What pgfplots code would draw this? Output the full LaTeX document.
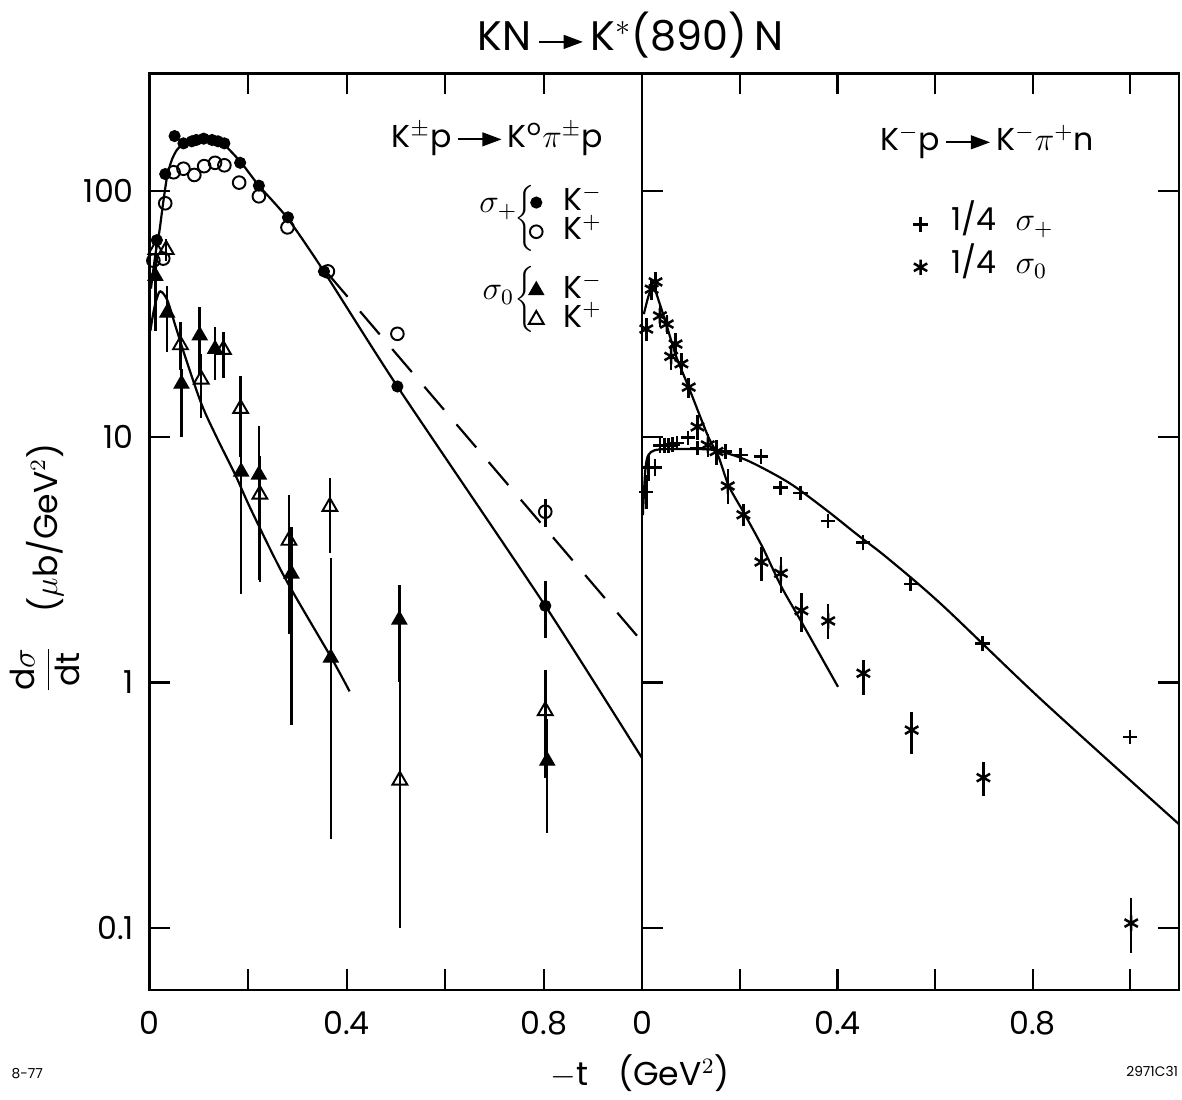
\documentclass[border=0pt]{standalone}
\usepackage{fontspec}
\setmainfont{Poppins}
\usepackage{pgfplots}
\pgfplotsset{compat=1.18}
\usetikzlibrary{arrows.meta}

\newlength\px
\setlength\px{0.01269cm}
\newsavebox\arrbox

\pgfplotsset{
  every axis/.append style={
    scale only axis, height=922\px, ymin=0.0562, ymax=300,
    ytick={0.1,1,10,100}, yminorticks=false,
    tick align=inside, major tick length=21\px,
    axis line style={line width=0.8pt}, tick style={line width=0.8pt, black},
    /pgf/number format/assume math mode=true,
    ticklabel style={font=\fontsize{11.5}{13}\selectfont},
    xticklabel style={yshift=-12\px},
    yticklabel style={xshift=-6\px},
    xtick pos=both,
    legend cell align=left,
  },
}

\begin{document}
\sbox\arrbox{\tikz[baseline=-0.55ex]\draw[line width=0.7pt,-{Triangle[length=7pt,width=5pt]}] (0,0)--(44\px,0);}
\begin{tikzpicture}
\path[use as bounding box] (-143\px,-110\px) rectangle (1039\px,996\px);

\begin{semilogyaxis}[name=L, at={(0,0)}, anchor=south west, width=496\px,
  xmin=0, xmax=1, xtick={0,0.4,0.8}, extra x ticks={0.2,0.6}, extra x tick labels={},
  ytick pos=left, yticklabels={0.1,1,10,100},
  legend style={at={(rel axis cs:0.736,0.873)}, anchor=north west, draw=none, fill=none,
    inner sep=0pt, row sep=5\px, font=\fontsize{11.5}{13}\selectfont,
    nodes={inner sep=0pt, text height=7.4pt, text depth=1.4pt},
    /tikz/every odd column/.append style={column sep=20\px}},
]
% fitted curves
\addplot[black, line width=0.8pt, no marks, forget plot, smooth, tension=0.4] coordinates {(0.003,40) (0.012,55) (0.02,68) (0.028,90) (0.036,115) (0.045,133) (0.055,146) (0.07,156) (0.1,160) (0.13,159) (0.15,155) (0.185,131) (0.222,105) (0.281,77) (0.354,47) (0.503,16) (0.803,2.05) (1.0,0.49)};
\addplot[black, line width=0.8pt, no marks, forget plot, dash pattern=on 11pt off 7pt] coordinates {(0.362,46) (1.0,1.46)};
\addplot[black, line width=0.8pt, no marks, forget plot, smooth, tension=0.5] coordinates {(0.002,27) (0.008,32) (0.014,36) (0.022,39) (0.036,36) (0.0525,28.3) (0.073,21) (0.106,13.5) (0.14,9.6) (0.174,7.0) (0.207,5.0) (0.275,2.66) (0.369,1.26) (0.406,0.92)};
% sigma_+ K-
\addplot[only marks, mark=*, mark size=2pt, black,
  error bars/y dir=both, error bars/y explicit, error bars/error mark=none,
  error bars/error bar style={line width=0.9pt}] coordinates {
(0.015,63) (0.032,117) (0.051,167) (0.069,156) (0.086,159) (0.095,161) (0.110,163)
(0.127,161) (0.139,159) (0.152,156) (0.184,130) (0.222,105) (0.281,78) (0.354,47)
(0.503,16) (0.803,2.05) += (0,0.53) -= (0,0.54)};
\addlegendentry{K$^-$}
% sigma_+ K+
\addplot[only marks, mark=o, mark size=2.3pt, black, mark options={fill=white, line width=0.7pt},
  error bars/y dir=both, error bars/y explicit, error bars/error mark=none,
  error bars/error bar style={line width=0.9pt}] coordinates {
(0.008,52) (0.028,53) (0.032,89) (0.049,119) (0.069,123) (0.091,116) (0.111,126)
(0.133,130) (0.152,127) (0.182,108) (0.222,95) (0.280,71) (0.362,47) (0.503,26.2)
(0.803,4.95) += (0,0.65) -= (0,0.65)};
\addlegendentry{K$^+$}
\addlegendimage{empty legend}
\addlegendentry[text height=7.5pt]{}
% sigma_0 K-
\addplot[only marks, mark=triangle*, mark size=3.1pt, black,
  error bars/y dir=both, error bars/y explicit, error bars/error mark=none,
  error bars/error bar style={line width=0.9pt}] coordinates {
(0.012,45) += (0,10) -= (0,18)
(0.036,31.9) += (0,9) -= (0,9.8)
(0.065,16.4) += (0,2.5) -= (0,6.4)
(0.102,25.8) += (0,7.8) -= (0,8)
(0.133,22.7) += (0,5.3) -= (0,5.7)
(0.186,7.2) += (0,4) -= (0,4.9)
(0.222,7.0) += (0,4) -= (0,4.4)
(0.288,2.77) += (0,1.5) -= (0,2.1)
(0.368,1.26) += (0,1.94) -= (0,1.03)
(0.507,1.80) += (0,0.7) -= (0,0.8)
(0.807,0.48) += (0,0.23) -= (0,0.236)};
\addlegendentry{K$^-$}
% sigma_0 K+
\addplot[only marks, mark=triangle, mark size=3.1pt, black, mark options={fill=white, line width=0.7pt},
  error bars/y dir=both, error bars/y explicit, error bars/error mark=none,
  error bars/error bar style={line width=0.9pt}] coordinates {
(0.013,57.6) += (0,5) -= (0,5)
(0.034,57.6) += (0,6) -= (0,6)
(0.063,23.6) += (0,5.7) -= (0,5)
(0.105,17.1) += (0,4.6) -= (0,5.2)
(0.150,22.6) += (0,4) -= (0,5.2)
(0.185,13.0) += (0,4.7) -= (0,4.7)
(0.224,5.82) += (0,2.5) -= (0,3.26)
(0.283,3.78) += (0,2.0) -= (0,2.2)
(0.366,5.19) += (0,1.6) -= (0,1.84)
(0.508,0.40) += (0,0.74) -= (0,0.30)
(0.803,0.767) += (0,0.36) -= (0,0.36)};
\addlegendentry{K$^+$}

\node[font=\fontsize{11.5}{13}\selectfont] at (rel axis cs:0.7056,0.9284)
  {K$^{\pm}$p\,\usebox\arrbox\,K$^{\mathrm{o}}\pi^{\pm}$p};
\node[font=\fontsize{12}{13}\selectfont] at (rel axis cs:0.708,0.8525) {$\sigma_+$};
\node at (rel axis cs:0.764,0.8417) {$\left\{\vphantom{\rule[-23\px]{0pt}{46\px}}\right.$};
\node[font=\fontsize{12}{13}\selectfont] at (rel axis cs:0.708,0.7581) {$\sigma_0$};
\node at (rel axis cs:0.764,0.7538) {$\left\{\vphantom{\rule[-23\px]{0pt}{46\px}}\right.$};
\end{semilogyaxis}

\begin{semilogyaxis}[name=R, at={(L.south east)}, anchor=south west, width=540\px,
  xmin=0, xmax=1.1, xtick={0,0.4,0.8}, extra x ticks={0.2,0.6,1.0}, extra x tick labels={},
  ytick pos=both, yticklabels={},
  legend style={at={(rel axis cs:0.504,0.8486)}, anchor=north west, draw=none, fill=none,
    inner sep=0pt, row sep=6.9pt, font=\fontsize{11.5}{13}\selectfont,
    nodes={inner sep=0pt, text height=6.6pt, text depth=2pt},
    /tikz/every odd column/.append style={column sep=24\px}},
]
\addplot[black, line width=0.8pt, no marks, forget plot, smooth, tension=0.5] coordinates {(0.001,4.8) (0.006,7.3) (0.012,8.4) (0.025,8.8) (0.05,8.9) (0.1,8.9) (0.15,8.8) (0.215,8.0) (0.3,6.5) (0.373,5.1) (0.44,4.0) (0.503,3.2) (0.615,2.06) (0.818,0.85) (1.1,0.265)};
\addplot[black, line width=0.8pt, no marks, forget plot, smooth, tension=0.4] coordinates {(0.003,31.5) (0.012,37) (0.022,41) (0.035,35) (0.05,28.2) (0.07,21) (0.096,15.7) (0.134,10.1) (0.156,8.3) (0.177,6.3) (0.208,4.9) (0.246,3.56) (0.285,2.45) (0.327,1.75) (0.401,0.96)};
% 1/4 sigma_+
\addplot[only marks, mark=+, mark size=2.6pt, black, mark options={line width=0.9pt},
  error bars/y dir=both, error bars/y explicit, error bars/error mark=none,
  error bars/error bar style={line width=0.9pt}] coordinates {
(0.008,5.96) += (0,1.0) -= (0,0.9)
(0.013,7.5) += (0,0.9) -= (0,0.9)
(0.026,7.5) += (0,0.6) -= (0,0.6)
(0.036,9.2) += (0,0.6) -= (0,0.6)
(0.045,9.2) += (0,0.6) -= (0,0.6)
(0.054,9.2) += (0,0.6) -= (0,0.6)
(0.062,9.3) += (0,0.6) -= (0,0.6)
(0.071,9.4) += (0,0.6) -= (0,0.6)
(0.093,9.9) += (0,0.5) -= (0,0.5)
(0.113,9.0)
(0.17,8.7) += (0,0.4) -= (0,0.4)
(0.201,8.4)
(0.243,8.3)
(0.283,6.2) += (0,0.3) -= (0,0.3)
(0.324,5.9) += (0,0.3) -= (0,0.3)
(0.38,4.53) += (0,0.25) -= (0,0.25)
(0.452,3.71) += (0,0.2) -= (0,0.2)
(0.55,2.52) += (0,0.15) -= (0,0.17)
(0.697,1.44) += (0,0.08) -= (0,0.08)
(1.0,0.60) += (0,0.03) -= (0,0.03)};
\addlegendentry{1/4\hspace{0.6em}$\sigma_+$}
% 1/4 sigma_0
\addplot[only marks, mark=asterisk, mark size=2.8pt, black, mark options={line width=0.9pt},
  error bars/y dir=both, error bars/y explicit, error bars/error mark=none,
  error bars/error bar style={line width=0.9pt}] coordinates {
(0.008,27.4) += (0,3) -= (0,3)
(0.019,39.8) += (0,4) -= (0,4)
(0.027,42.6) += (0,4) -= (0,4)
(0.036,31) += (0,3) -= (0,3)
(0.05,28.7) += (0,2.5) -= (0,2.5)
(0.059,21.2) += (0,2.5) -= (0,2.5)
(0.068,23.8) += (0,2.5) -= (0,2.5)
(0.08,19.8) += (0,2) -= (0,2)
(0.095,15.9) += (0,1.5) -= (0,1.5)
(0.113,10.96) += (0,1.3) -= (0,1.3)
(0.134,9.25) += (0,1) -= (0,1)
(0.152,8.7) += (0,1) -= (0,1)
(0.175,6.3) += (0,1.06) -= (0,1.0)
(0.207,4.81) += (0,0.5) -= (0,0.5)
(0.244,3.09) += (0,0.48) -= (0,0.5)
(0.284,2.78) += (0,0.47) -= (0,0.47)
(0.326,1.96) += (0,0.35) -= (0,0.36)
(0.381,1.78) += (0,0.31) -= (0,0.28)
(0.453,1.09) += (0,0.15) -= (0,0.2)
(0.552,0.64) += (0,0.115) -= (0,0.13)
(0.699,0.41) += (0,0.066) -= (0,0.064)
(1.002,0.105) += (0,0.028) -= (0,0.026)};
\addlegendentry{1/4\hspace{0.6em}$\sigma_0$}

\node[font=\fontsize{11.5}{13}\selectfont] at (rel axis cs:0.6426,0.9252)
  {K$^-$p\,\usebox\arrbox\,K$^-\pi^+$n};
\end{semilogyaxis}

\node[font=\fontsize{15}{17}\selectfont] at (484\px,961\px) {KN\,\usebox\arrbox\,K$^*$(890)\,N};
\node[font=\fontsize{12}{14}\selectfont] at (494\px,-84\px) {$-$t\hspace{0.9em}(GeV$^2$)};
\node[rotate=90, font=\fontsize{12}{14}\selectfont] at (-105\px,424\px)
  {$\displaystyle\frac{\mbox{d}\sigma}{\mbox{dt}}$\hspace{1em}($\mu$b/GeV$^2$)};
\node[font=\fontsize{5}{6}\selectfont] at (-123\px,-84\px) {8-77};
\node[font=\fontsize{5}{6}\selectfont] at (1009\px,-82\px) {2971C31};
\end{tikzpicture}
\end{document}
